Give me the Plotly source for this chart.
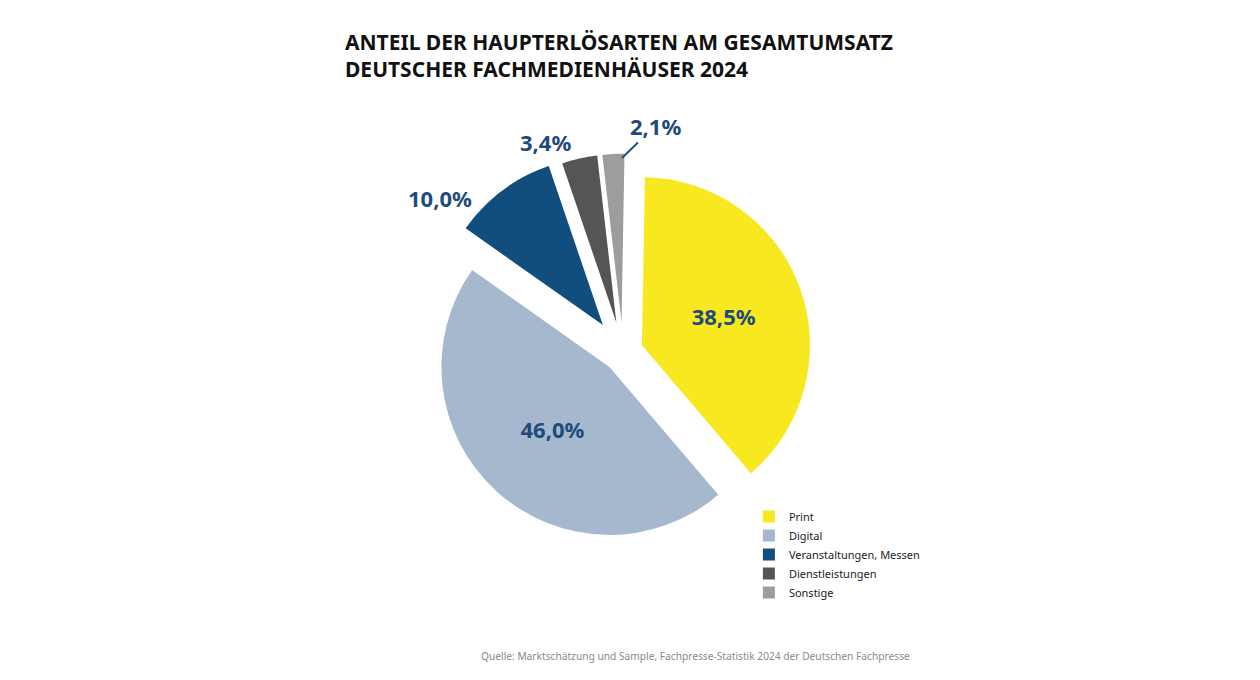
import plotly.graph_objects as go

# Anteil der Haupterlösarten, Fachpresse-Statistik 2024
categories = ['Print', 'Digital', 'Veranstaltungen, Messen', 'Dienstleistungen', 'Sonstige']
shares = [38.5, 46.0, 10.0, 3.4, 2.1]
colors = ['#F7E81F', '#A5B8CE', '#124E7D', '#555555', '#9D9D9D']
# big slices get their label inside, the small ones get an annotation outside
text_pos = ['inside', 'inside', 'none', 'none', 'none']
pulls = [0.12, 0.12, 0.2, 0.18, 0.18]

label_color = '#1E4B7B'
font_family = 'Noto Sans'


def fmt(v):
    return ('%.1f' % v).replace('.', ',') + '%'


fig = go.Figure()

fig.add_trace(go.Pie(
    labels=categories,
    values=shares,
    sort=False,
    direction='clockwise',
    rotation=1,
    pull=pulls,
    marker=dict(colors=colors, line=dict(width=0)),
    textposition=text_pos,
    texttemplate='%{value:.1f}%',
    insidetextorientation='horizontal',
    textfont=dict(family=font_family, size=22, color=label_color, weight='bold'),
    domain=dict(x=[0.3281, 0.6481], y=[0.1976, 0.7906]),
    hoverinfo='label+value',
))

# outside labels for the small slices
outside = [
    dict(x=432, y=190, arrow=None),
    dict(x=537, y=134, arrow=None),
    dict(x=647, y=118, arrow=(614, 150)),
]
annotations = []
for i, pos in zip([2, 3, 4], outside):
    a = dict(text=fmt(shares[i]), xref='paper', yref='paper',
             xanchor='center', yanchor='middle',
             font=dict(family=font_family, size=22, color=label_color, weight='bold'))
    if pos['arrow'] is None:
        a.update(x=pos['x'] / 1260, y=1 - pos['y'] / 680, showarrow=False)
    else:
        tx, ty = pos['arrow']
        a.update(x=tx / 1260, y=1 - ty / 680, showarrow=True, arrowhead=0,
                 arrowwidth=1.8, arrowcolor=label_color,
                 ax=pos['x'] - tx, ay=pos['y'] - ty, standoff=0)
    annotations.append(a)

annotations.append(dict(
    text='ANTEIL DER HAUPTERLÖSARTEN AM GESAMTUMSATZ<br>DEUTSCHER FACHMEDIENHÄUSER 2024',
    x=335 / 1260, y=1 - 18 / 680, xref='paper', yref='paper',
    xanchor='left', yanchor='top', align='left', showarrow=False,
    font=dict(family=font_family, size=21, color='#111111', weight='bold'),
))
annotations.append(dict(
    text='Quelle: Marktschätzung und Sample, Fachpresse-Statistik 2024 der Deutschen Fachpresse',
    x=904 / 1260, y=1 - 648 / 680, xref='paper', yref='paper',
    xanchor='right', yanchor='middle', showarrow=False,
    font=dict(family=font_family, size=10.2, color='#8A8A8A'),
))

fig.update_layout(
    width=1260,
    height=680,
    margin=dict(l=0, r=0, t=0, b=0),
    paper_bgcolor='white',
    plot_bgcolor='white',
    separators=',.',
    font=dict(family=font_family),
    showlegend=True,
    legend=dict(
        x=0.588, y=0.2735, xanchor='left', yanchor='top',
        font=dict(family=font_family, size=11, color='#222222'),
        tracegroupgap=0, itemwidth=30,
        bgcolor='rgba(0,0,0,0)',
    ),
    annotations=annotations,
)

fig.write_html("out.html")
